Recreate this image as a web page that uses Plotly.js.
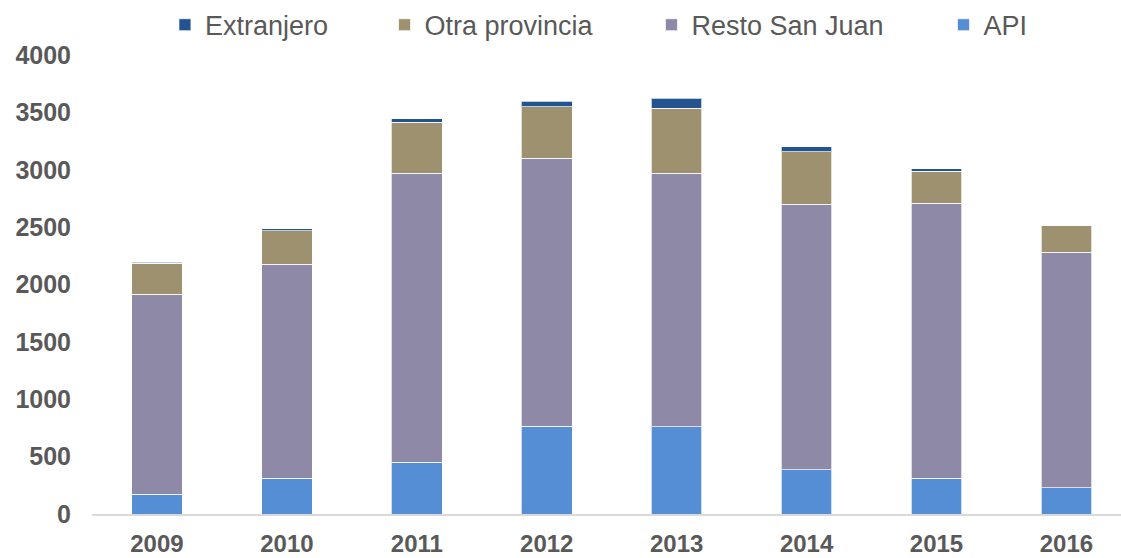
<!DOCTYPE html>
<html>
<head>
<meta charset="utf-8">
<script src="https://cdn.plot.ly/plotly-3.0.1.min.js"></script>
<style>html,body{margin:0;padding:0;background:#fff;}#chart{width:1121px;height:558px;}</style>
</head>
<body>
<div id="chart"></div>
<script>
const years = ["2009", "2010", "2011", "2012", "2013", "2014", "2015", "2016"];
const api = [172, 311, 451, 764, 761, 386, 311, 229];
const restoSanJuan = [1743, 1865, 2518, 2336, 2208, 2313, 2399, 2054];
const otraProvincia = [270, 293, 447, 449, 567, 456, 279, 229];
const extranjero = [8, 15, 29, 48, 87, 46, 20, 0];
const yTicks = [0, 500, 1000, 1500, 2000, 2500, 3000, 3500, 4000];

const FONT = "Liberation Sans, Arial, sans-serif";
const GREY = "#595959";
const edge = {color: "rgba(255,255,255,0.7)", width: 1};

const traces = [
  {type: "bar", name: "API", x: years, y: api, marker: {color: "#558ED5", line: edge}, legend: "legend4"},
  {type: "bar", name: "Resto San Juan", x: years, y: restoSanJuan, marker: {color: "#8E89A6", line: edge}, legend: "legend3"},
  {type: "bar", name: "Otra provincia", x: years, y: otraProvincia, marker: {color: "#9E916F", line: edge}, legend: "legend2"},
  {type: "bar", name: "Extranjero", x: years, y: extranjero, marker: {color: "#23548F", line: edge}, legend: "legend"}
];

function leg(x) {
  return {x: x, y: 1.065, xanchor: "left", yanchor: "middle", orientation: "h",
          font: {family: FONT, size: 27, color: GREY}, bgcolor: "rgba(0,0,0,0)", borderwidth: 0};
}

const layout = {
  width: 1121, height: 558,
  margin: {l: 92, r: 0, t: 55, b: 44, pad: 0},
  paper_bgcolor: "#fff", plot_bgcolor: "#fff",
  barmode: "stack",
  bargap: 0.61,
  showlegend: true,
  legend: leg(0.0709),
  legend2: leg(0.2843),
  legend3: leg(0.5437),
  legend4: leg(0.8275),
  xaxis: {
    type: "category",
    range: [-0.5, 7.42],
    showgrid: false, zeroline: false,
    showline: true, linecolor: "#d9d9d9", linewidth: 2,
    ticks: "", ticklabelstandoff: 7,
    tickfont: {family: FONT, size: 24, color: GREY, weight: "bold"}
  },
  yaxis: {
    range: [0, 4000],
    tickvals: yTicks,
    ticktext: yTicks.map(String),
    showgrid: false, zeroline: false, showline: false,
    ticks: "", ticklabelstandoff: 20,
    tickfont: {family: FONT, size: 25, color: GREY, weight: "bold"}
  }
};

Plotly.newPlot("chart", traces, layout, {displayModeBar: false, staticPlot: true});
</script>
</body>
</html>
